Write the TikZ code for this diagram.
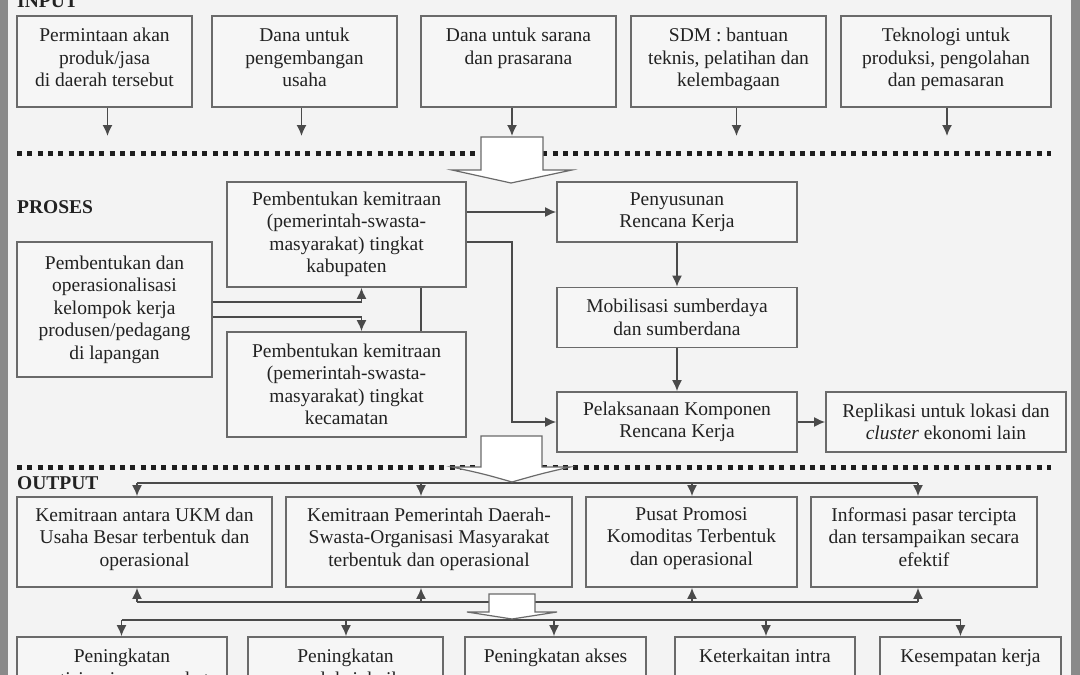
\documentclass[tikz,border=0pt]{standalone}
\usepackage{fontspec}
\setmainfont{Liberation Serif}
\usetikzlibrary{arrows.meta,calc}
\definecolor{bg}{HTML}{F3F3F3}
\definecolor{boxfill}{HTML}{F6F6F6}
\definecolor{boxline}{HTML}{6A6A6A}
\definecolor{conncol}{HTML}{4A4A4A}
\definecolor{txt}{HTML}{222222}
\definecolor{framecol}{HTML}{8A8A8A}
\definecolor{dotcol}{HTML}{1E1E1E}
\newcommand{\tb}[3]{\parbox[c][#2][t]{#1}{\centering #3}}
\begin{document}
\begin{tikzpicture}[x=1pt,y=-1pt,
  box/.style={draw=boxline,line width=1.7pt,fill=boxfill,inner sep=0pt,align=center,text=txt,font=\fontsize{19.5}{22.5}\selectfont},
  conn/.style={draw=conncol,line width=1.6pt},
  arr/.style={conn,-{Latex[length=11pt,width=10pt]}},
  dotline/.style={draw=dotcol,line width=5pt,dash pattern=on 5pt off 5.3pt},
  barrow/.style={draw=boxline,line width=1.2pt,fill=white},
  sec/.style={font=\bfseries\fontsize{19.5}{22.5}\selectfont,text=txt,inner sep=0pt,anchor=base west}
]
\useasboundingbox (0,0) rectangle (1080,675);
\fill[bg] (0,0) rectangle (1080,675);
\fill[framecol] (0,0) rectangle (8,675);
\fill[framecol] (1071,0) rectangle (1080,675);

% section labels
\node[sec] (linput) at (17,7) {INPUT};
\node[sec] (lproses) at (17,213.5) {PROSES};
\node[sec] (loutput) at (17,489.5) {OUTPUT};

% dotted separators
\draw[dotline] (17,153) -- (1051,153);
\draw[dotline] (17,467) -- (1051,467);

% INPUT boxes
\node[box,minimum width=175pt,inner ysep=12pt] (in1) at (104.5,61.5) {\tb{175pt}{67pt}{Permintaan akan\\produk/jasa\\di daerah tersebut}};
\node[box,minimum width=185pt,inner ysep=12pt] (in2) at (304.5,61.5) {\tb{185pt}{67pt}{Dana untuk\\pengembangan\\usaha}};
\node[box,minimum width=195pt,inner ysep=12pt] (in3) at (518.5,61.5) {\tb{195pt}{67pt}{Dana untuk sarana\\dan prasarana}};
\node[box,minimum width=195pt,inner ysep=12pt] (in4) at (728.5,61.5) {\tb{195pt}{67pt}{SDM : bantuan\\teknis, pelatihan dan\\kelembagaan}};
\node[box,minimum width=210pt,inner ysep=12pt] (in5) at (946,61.5) {\tb{210pt}{67pt}{Teknologi untuk\\produksi, pengolahan\\dan pemasaran}};

\coordinate (ia1) at (107.5,136);
\coordinate (ia2) at (301.5,136);
\coordinate (ia3) at (512,136);
\coordinate (ia4) at (736.5,136);
\coordinate (ia5) at (947,136);
\draw[arr] (ia1 |- in1.south) -- (ia1);
\draw[arr] (ia2 |- in2.south) -- (ia2);
\draw[arr] (ia3 |- in3.south) -- (ia3);
\draw[arr] (ia4 |- in4.south) -- (ia4);
\draw[arr] (ia5 |- in5.south) -- (ia5);

% PROSES boxes
\node[box,minimum width=239pt,minimum height=105pt] (A) at (346.5,234.5) {Pembentukan kemitraan\\(pemerintah-swasta-\\masyarakat) tingkat\\kabupaten};
\node[box,minimum width=195pt,minimum height=135pt] (B) at (114.5,309.5) {Pembentukan dan\\operasionalisasi\\kelompok kerja\\produsen/pedagang\\di lapangan};
\node[box,minimum width=239pt,minimum height=105pt] (C) at (346.5,384.5) {Pembentukan kemitraan\\(pemerintah-swasta-\\masyarakat) tingkat\\kecamatan};
\node[box,minimum width=240pt,minimum height=60pt] (D) at (677,212) {Penyusunan\\Rencana Kerja};
\node[box,minimum width=240pt,minimum height=60pt] (E) at (677,317.5) {Mobilisasi sumberdaya\\dan sumberdana};
\node[box,minimum width=240pt,minimum height=60pt] (F) at (677,422) {Pelaksanaan Komponen\\Rencana Kerja};
\node[box,minimum width=240pt,minimum height=60pt] (G) at (946,422) {Replikasi untuk lokasi dan\\\textit{cluster} ekonomi lain};

\draw[arr] (A.east |- D.west) -- (D.west);
\coordinate (jx) at (512,300);
\draw[arr] ($(A.east)+(0,7.5)$) -| (jx) |- (F.west);
\draw[arr] ($(B.east)+(0,-7.5)$) -| ($(A.south)+(15,0)$);
\draw[arr] ($(B.east)+(0,7.5)$) -| ($(C.north)+(15,0)$);
\draw[conn] ($(A.south)+(74.5,0)$) -- ($(C.north)+(74.5,0)$);
\draw[arr] (D) -- (E);
\draw[arr] (E) -- (F);
\draw[arr] (F) -- (G);

% OUTPUT boxes
\node[box,minimum width=255pt,inner ysep=10.5pt] (O1) at (144.5,542) {\tb{255pt}{69pt}{Kemitraan antara UKM dan\\Usaha Besar terbentuk dan\\operasional}};
\node[box,minimum width=286pt,inner ysep=10.5pt] (O2) at (429,542) {\tb{286pt}{69pt}{Kemitraan Pemerintah Daerah-\\Swasta-Organisasi Masyarakat\\terbentuk dan operasional}};
\node[box,minimum width=211pt,inner ysep=10.5pt] (O3) at (691.5,542) {\tb{211pt}{69pt}{Pusat Promosi\\Komoditas Terbentuk\\dan operasional}};
\node[box,minimum width=226pt,inner ysep=10.5pt] (O4) at (924,542) {\tb{226pt}{69pt}{Informasi pasar tercipta\\dan tersampaikan secara\\efektif}};

\coordinate (t1) at (137,483);
\coordinate (t2) at (421,483);
\coordinate (t3) at (692,483);
\coordinate (t4) at (918,483);
\draw[conn] (t1) -- (t4);
\draw[arr] (t1) -- (t1 |- O1.north);
\draw[arr] (t2) -- (t2 |- O2.north);
\draw[arr] (t3) -- (t3 |- O3.north);
\draw[arr] (t4) -- (t4 |- O4.north);

\coordinate (b1) at (137,602);
\coordinate (b2) at (421,602);
\coordinate (b3) at (692,602);
\coordinate (b4) at (918,602);
\draw[conn] (b1) -- (b4);
\draw[arr] (b1) -- (b1 |- O1.south);
\draw[arr] (b2) -- (b2 |- O2.south);
\draw[arr] (b3) -- (b3 |- O3.south);
\draw[arr] (b4) -- (b4 |- O4.south);

% bottom row
\node[box,minimum width=210pt,inner ysep=12pt] (P1) at (122,687) {\tb{210pt}{76pt}{Peningkatan\\partisipasi masyarakat}};
\node[box,minimum width=195pt,inner ysep=12pt] (P2) at (345.5,687) {\tb{195pt}{76pt}{Peningkatan\\produksi, baik}};
\node[box,minimum width=181pt,inner ysep=12pt] (P3) at (555.5,687) {\tb{181pt}{76pt}{Peningkatan akses}};
\node[box,minimum width=180pt,inner ysep=12pt] (P4) at (765,687) {\tb{180pt}{76pt}{Keterkaitan intra}};
\node[box,minimum width=181pt,inner ysep=12pt] (P5) at (970.5,687) {\tb{181pt}{76pt}{Kesempatan kerja}};

\coordinate (c1) at (121.5,620);
\coordinate (c2) at (346,620);
\coordinate (c3) at (554,620);
\coordinate (c4) at (766,620);
\coordinate (c5) at (960.5,620);
\draw[conn] (c1) -- (c5);
\draw[arr] (c1) -- (c1 |- P1.north);
\draw[arr] (c2) -- (c2 |- P2.north);
\draw[arr] (c3) -- (c3 |- P3.north);
\draw[arr] (c4) -- (c4 |- P4.north);
\draw[arr] (c5) -- (c5 |- P5.north);

% block arrows
\draw[barrow] (481,137) -- (543,137) -- (543,170) -- (572,170) -- (511,183) -- (452,170) -- (481,170) -- cycle;
\draw[barrow] (481,436) -- (542,436) -- (542,467) -- (570,467) .. controls (540,474) .. (512,482) .. controls (484,474) .. (452,467) -- (481,467) -- cycle;
\draw[barrow] (489,594) -- (535,594) -- (535,612) -- (557,612) .. controls (535,616) .. (512,619) .. controls (489,616) .. (467,612) -- (489,612) -- cycle;
\end{tikzpicture}
\end{document}
